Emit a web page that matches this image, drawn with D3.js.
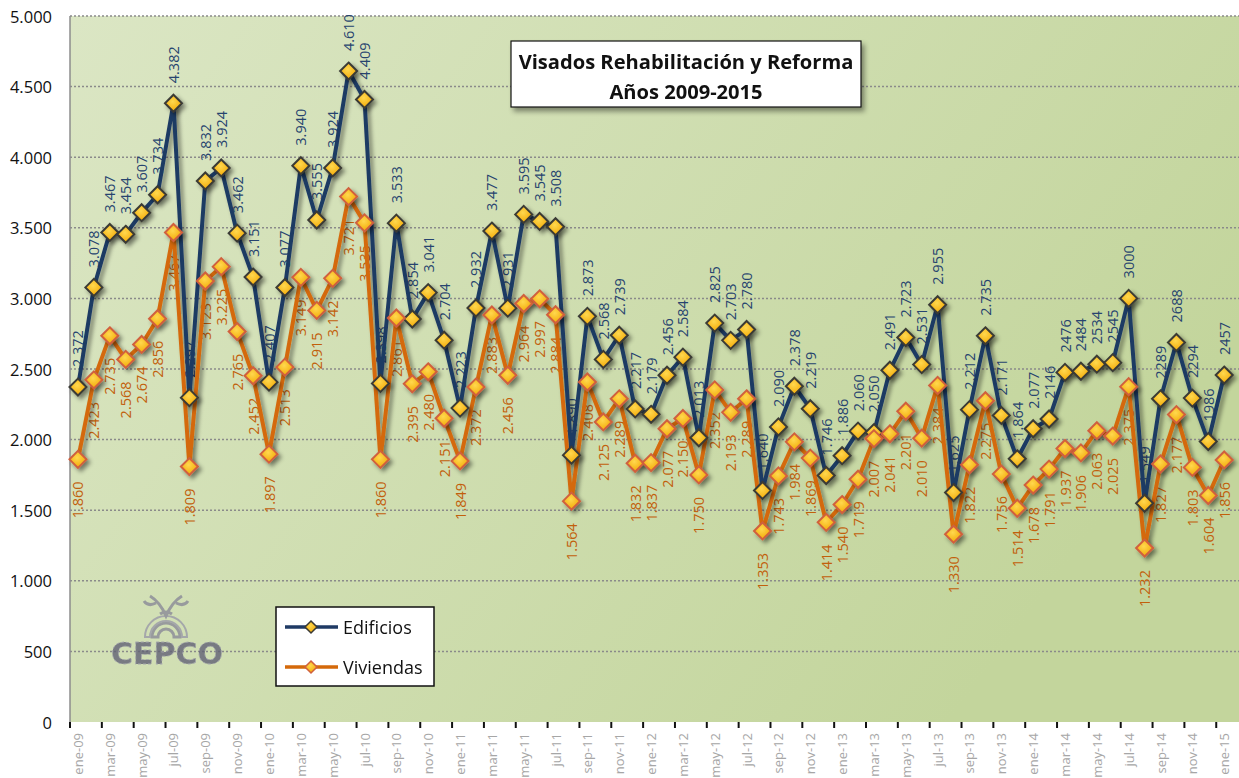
<!DOCTYPE html>
<html><head><meta charset="utf-8">
<script src="https://cdn.jsdelivr.net/npm/d3@7"></script>
<style>body{margin:0;background:#fff}svg{display:block}</style>
</head><body>
<svg id="chart" width="1239" height="778"></svg>
<script>
// ---------------- DATA ----------------
const categories = [
 "ene-09","feb-09","mar-09","abr-09","may-09","jun-09","jul-09","ago-09","sep-09","oct-09","nov-09","dic-09",
 "ene-10","feb-10","mar-10","abr-10","may-10","jun-10","jul-10","ago-10","sep-10","oct-10","nov-10","dic-10",
 "ene-11","feb-11","mar-11","abr-11","may-11","jun-11","jul-11","ago-11","sep-11","oct-11","nov-11","dic-11",
 "ene-12","feb-12","mar-12","abr-12","may-12","jun-12","jul-12","ago-12","sep-12","oct-12","nov-12","dic-12",
 "ene-13","feb-13","mar-13","abr-13","may-13","jun-13","jul-13","ago-13","sep-13","oct-13","nov-13","dic-13",
 "ene-14","feb-14","mar-14","abr-14","may-14","jun-14","jul-14","ago-14","sep-14","oct-14","nov-14","dic-14",
 "ene-15"];
const edificios = [
 2372,3078,3467,3454,3607,3734,4382,2297,3832,3924,3462,3151,
 2407,3077,3940,3555,3924,4610,4409,2398,3533,2854,3041,2704,
 2223,2932,3477,2931,3595,3545,3508,1890,2873,2568,2739,2217,
 2179,2456,2584,2013,2825,2703,2780,1640,2090,2378,2219,1746,
 1886,2060,2050,2491,2723,2531,2955,1625,2212,2735,2171,1864,
 2077,2146,2476,2484,2534,2545,3000,1549,2289,2688,2294,1986,
 2457];
const viviendas = [
 1860,2423,2735,2568,2674,2856,3467,1809,3123,3225,2765,2452,
 1897,2513,3149,2915,3142,3721,3535,1860,2861,2395,2480,2151,
 1849,2372,2883,2456,2964,2997,2884,1564,2408,2125,2289,1832,
 1837,2077,2150,1750,2352,2193,2289,1353,1743,1984,1869,1414,
 1540,1719,2007,2041,2201,2010,2384,1330,1822,2275,1756,1514,
 1678,1791,1937,1906,2063,2025,2375,1232,1827,2177,1803,1604,
 1856];
// months whose Edificios label is printed without thousands separator
const edificiosPlainLabels = ["feb-14","mar-14","abr-14","may-14","jun-14","jul-14",
 "sep-14","oct-14","nov-14","dic-14","ene-15"];
const yTicks = [0,500,1000,1500,2000,2500,3000,3500,4000,4500,5000];
const xTickLabels = categories.filter((d,i)=>i%2===0);
const seriesNames = ["Edificios","Viviendas"];
const titleLines = ["Visados Rehabilitación y Reforma","Años 2009-2015"];

// ---------------- SETUP ----------------
const W=1239,H=778;
const pLeft=70, pTop=16, pBottom=722, bw=15.92;
const svg=d3.select("#chart");
const FONT="'Open Sans', 'Noto Sans', sans-serif";
const es=d3.formatLocale({decimal:",",thousands:".",grouping:[3],currency:["","€"]});
const fmt=es.format(",d");

const x=d3.scaleBand().domain(categories).range([pLeft,pLeft+categories.length*bw]).padding(0);
const y=d3.scaleLinear().domain([0,5000]).range([pBottom,pTop]);
const cx=c=>x(c)+x.bandwidth()/2;

const defs=svg.append("defs");
const bg=defs.append("linearGradient").attr("id","bg").attr("x1",0).attr("y1",0).attr("x2",1).attr("y2",0.45);
bg.append("stop").attr("offset","0%").attr("stop-color","#DBE6C4");
bg.append("stop").attr("offset","100%").attr("stop-color","#C3D59C");
const mg=defs.append("radialGradient").attr("id","mk").attr("cx","45%").attr("cy","40%").attr("r","65%");
mg.append("stop").attr("offset","0%").attr("stop-color","#FFD84E");
mg.append("stop").attr("offset","100%").attr("stop-color","#F2A500");
const sh=defs.append("filter").attr("id","sh").attr("x","-10%").attr("y","-10%").attr("width","130%").attr("height","130%");
sh.append("feDropShadow").attr("dx",3).attr("dy",3).attr("stdDeviation",2).attr("flood-color","#000").attr("flood-opacity",0.45);
const sh2=defs.append("filter").attr("id","sh2").attr("x","-10%").attr("y","-20%").attr("width","130%").attr("height","160%");
sh2.append("feDropShadow").attr("dx",3).attr("dy",4).attr("stdDeviation",2.5).attr("flood-color","#000").attr("flood-opacity",0.4);
const ash=defs.append("filter").attr("id","ash").attr("x","-5%").attr("y","-200%").attr("width","110%").attr("height","1000%");
ash.append("feDropShadow").attr("dx",0).attr("dy",4).attr("stdDeviation",3).attr("flood-color","#000").attr("flood-opacity",0.45);

// plot background
svg.append("rect").attr("x",pLeft).attr("y",pTop).attr("width",W-pLeft).attr("height",pBottom-pTop).attr("fill","url(#bg)");

// gridlines
svg.append("g").selectAll("line").data(yTicks.filter(d=>d>0)).join("line")
 .attr("x1",pLeft).attr("x2",W).attr("y1",d=>y(d)).attr("y2",d=>y(d))
 .attr("stroke","#8A8A8A").attr("stroke-width",1.5).attr("stroke-dasharray","2,2");

// left axis line
svg.append("line").attr("x1",pLeft).attr("x2",pLeft).attr("y1",pTop).attr("y2",pBottom).attr("stroke","#8C8C8C").attr("stroke-width",1.5);

// y tick labels
svg.append("g").selectAll("text").data(yTicks).join("text")
 .attr("x",52).attr("y",d=>y(d)).attr("text-anchor","end").attr("dominant-baseline","central")
 .attr("font-family",FONT).attr("font-size",16.5).attr("fill","#111").text(d=>fmt(d));

// logo watermark
const logo=svg.append("g").attr("opacity",0.8);
logo.append("text").attr("x",167).attr("y",653).attr("text-anchor","middle").attr("dominant-baseline","central")
 .attr("font-family","'DejaVu Sans', sans-serif").attr("font-weight","bold").attr("font-size",30)
 .attr("fill","#626276").attr("stroke","#9a9aaa").attr("stroke-width",0.8).attr("stroke-dasharray","3,2").text("CEPCO");
const arc=d3.arc();
logo.append("path").attr("transform","translate(166,637)")
 .attr("d",arc({innerRadius:8,outerRadius:14,startAngle:-Math.PI/2,endAngle:Math.PI/2}))
 .attr("fill","none").attr("stroke","#8a8a98").attr("stroke-width",3);
logo.append("path").attr("transform","translate(166,637)")
 .attr("d",arc({innerRadius:16,outerRadius:21,startAngle:-Math.PI/2,endAngle:Math.PI/2}))
 .attr("fill","none").attr("stroke","#9a9aa8").attr("stroke-width",2);
logo.append("path").attr("d","M150,596 q10,6 16,20 q6,-14 16,-20 M156,603 q-8,4 -12,-2 M176,603 q8,4 12,-2 M160,614 q6,-4 12,0")
 .attr("fill","none").attr("stroke","#8a8a98").attr("stroke-width",3);

// bottom axis
svg.append("line").attr("x1",pLeft).attr("x2",W).attr("y1",pBottom).attr("y2",pBottom)
 .attr("stroke","#111").attr("stroke-width",2).attr("filter","url(#ash)");
svg.append("g").selectAll("line").data(xTickLabels).join("line")
 .attr("x1",d=>x(d)).attr("x2",d=>x(d)).attr("y1",pBottom).attr("y2",pBottom+6)
 .attr("stroke","#111").attr("stroke-width",2);
svg.append("g").selectAll("text").data(xTickLabels).join("text")
 .attr("transform",d=>`translate(${cx(d)},733) rotate(-90)`)
 .attr("text-anchor","end").attr("dominant-baseline","central")
 .attr("font-family",FONT).attr("font-size",13).attr("fill","#A6A6A6").text(d=>d);

// data labels (beneath lines)
const edC="#1F3A64", viC="#D4690A";
svg.append("g").selectAll("text").data(categories).join("text")
 .attr("transform",(d,i)=>`translate(${cx(d)},${y(edificios[i])-20}) rotate(-90)`)
 .attr("text-anchor","start").attr("dominant-baseline","central")
 .attr("font-family",FONT).attr("font-size",14.5).attr("fill","#27446F")
 .text((d,i)=>edificiosPlainLabels.includes(d)?String(edificios[i]):fmt(edificios[i]));
svg.append("g").selectAll("text").data(categories).join("text")
 .attr("transform",(d,i)=>`translate(${cx(d)},${y(viviendas[i])+22}) rotate(-90)`)
 .attr("text-anchor","end").attr("dominant-baseline","central")
 .attr("font-family",FONT).attr("font-size",14.5).attr("fill","#C2600C")
 .text((d,i)=>fmt(viviendas[i]));

// lines
const line=d3.line().x(d=>cx(d.c)).y(d=>y(d.v));
const edPts=categories.map((c,i)=>({c,v:edificios[i]}));
const viPts=categories.map((c,i)=>({c,v:viviendas[i]}));
const diamond=r=>`M0,${-r}L${r},0L0,${r}L${-r},0Z`;
const lg=svg.append("g").attr("filter","url(#sh)");
lg.append("path").attr("d",line(edPts)).attr("fill","none").attr("stroke",edC).attr("stroke-width",4).attr("stroke-linejoin","round");
lg.append("path").attr("d",line(viPts)).attr("fill","none").attr("stroke",viC).attr("stroke-width",4).attr("stroke-linejoin","round");
const mkG=svg.append("g").attr("filter","url(#sh)");
mkG.append("g").selectAll("path").data(edPts).join("path")
 .attr("transform",d=>`translate(${cx(d.c)},${y(d.v)})`).attr("d",diamond(8.5))
 .attr("fill","url(#mk)").attr("stroke","#3A3A35").attr("stroke-width",2);
mkG.append("g").selectAll("path").data(viPts).join("path")
 .attr("transform",d=>`translate(${cx(d.c)},${y(d.v)})`).attr("d",diamond(8.5))
 .attr("fill","url(#mk)").attr("stroke","#D0603E").attr("stroke-width",2);

// title box
const tg=svg.append("g");
tg.append("rect").attr("x",511).attr("y",41).attr("width",350).attr("height",66)
 .attr("fill","#fff").attr("stroke","#111").attr("stroke-width",1.2).attr("filter","url(#sh2)");
const t1=tg.append("text").attr("x",686).attr("y",61).attr("text-anchor","middle").attr("dominant-baseline","central")
 .attr("font-family",FONT).attr("font-weight","bold").attr("font-size",18).attr("fill","#111").text(titleLines[0]);
const w1=t1.node().getComputedTextLength();
const fs=18*335/w1;
t1.attr("font-size",fs);
tg.append("text").attr("x",686).attr("y",91).attr("text-anchor","middle").attr("dominant-baseline","central")
 .attr("font-family",FONT).attr("font-weight","bold").attr("font-size",fs).attr("fill","#111").text(titleLines[1]);

// legend
const leg=svg.append("g");
leg.append("rect").attr("x",276).attr("y",607).attr("width",158).attr("height",79)
 .attr("fill","#fff").attr("stroke","#111").attr("stroke-width",1.5);
const legItems=[{n:seriesNames[0],c:edC,s:"#3A3A35",y:627},{n:seriesNames[1],c:viC,s:"#D0603E",y:667}];
legItems.forEach(it=>{
 leg.append("line").attr("x1",285).attr("x2",338).attr("y1",it.y).attr("y2",it.y).attr("stroke",it.c).attr("stroke-width",3.5);
 leg.append("path").attr("transform",`translate(311,${it.y})`).attr("d",diamond(6)).attr("fill","url(#mk)").attr("stroke",it.s).attr("stroke-width",1.5);
 leg.append("text").attr("x",343).attr("y",it.y).attr("dominant-baseline","central")
  .attr("font-family",FONT).attr("font-size",18).attr("fill","#111").text(it.n);
});
</script>
</body></html>
